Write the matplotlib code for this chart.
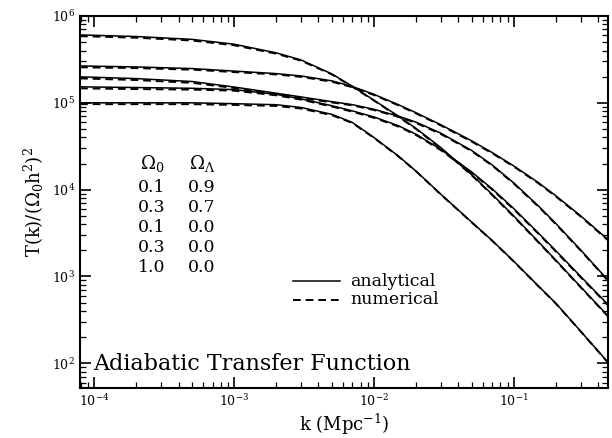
import numpy as np
import matplotlib
matplotlib.use("Agg")
import matplotlib.pyplot as plt
from matplotlib.ticker import LogLocator, NullFormatter

plt.rcParams["font.family"] = "DejaVu Serif"
plt.rcParams["mathtext.fontset"] = "dejavuserif"

# wavenumbers (Mpc^-1) at which the curves are tabulated
k = [7.9e-5, 1e-4, 2e-4, 5e-4, 1e-3, 2e-3, 3e-3, 5e-3, 7e-3, 1e-2,
     1.5e-2, 2e-2, 3e-2, 5e-2, 7e-2, 0.1, 0.15, 0.2, 0.3, 0.47]

# analytical T(k)/(Omega_0 h^2)^2, one list per model
ana_a = [6.05e5, 5.99e5, 5.80e5, 5.38e5, 4.73e5, 3.76e5, 3.12e5, 2.15e5, 1.55e5, 1.07e5,
         6.99e4, 5.06e4, 3.05e4, 1.48e4, 8.80e3, 4.95e3, 2.50e3, 1.53e3, 760, 352]
ana_b = [2.66e5, 2.64e5, 2.59e5, 2.48e5, 2.32e5, 2.17e5, 2.04e5, 1.79e5, 1.54e5, 1.25e5,
         9.48e4, 7.67e4, 5.59e4, 3.64e4, 2.67e4, 1.87e4, 1.20e4, 8.46e3, 4.99e3, 2.66e3]
ana_c = [1.99e5, 1.97e5, 1.90e5, 1.76e5, 1.52e5, 1.29e5, 1.17e5, 1.03e5, 9.53e4, 8.41e4,
         7.01e4, 5.98e4, 4.47e4, 2.82e4, 1.92e4, 1.19e4, 6.46e3, 4.05e3, 2.02e3, 907]
ana_d = [1.53e5, 1.52e5, 1.50e5, 1.47e5, 1.42e5, 1.25e5, 1.11e5, 9.25e4, 8.07e4, 6.87e4,
         5.43e4, 4.34e4, 2.91e4, 1.59e4, 1.02e4, 6.03e3, 3.15e3, 1.97e3, 1.00e3, 476]
ana_e = [1.00e5, 1.00e5, 1.00e5, 1.00e5, 9.77e4, 9.51e4, 8.85e4, 7.36e4, 5.94e4, 3.98e4,
         2.42e4, 1.63e4, 8.87e3, 4.21e3, 2.59e3, 1.49e3, 774, 488, 234, 103]

# numerical results
num_a = [5.85e5, 5.80e5, 5.62e5, 5.22e5, 4.60e5, 3.68e5, 3.06e5, 2.12e5, 1.53e5, 1.06e5,
         6.88e4, 4.98e4, 3.00e4, 1.46e4, 8.65e3, 4.87e3, 2.46e3, 1.51e3, 750, 347]
num_b = [2.57e5, 2.55e5, 2.51e5, 2.41e5, 2.26e5, 2.12e5, 1.99e5, 1.75e5, 1.51e5, 1.23e5,
         9.32e4, 7.54e4, 5.49e4, 3.57e4, 2.62e4, 1.84e4, 1.18e4, 8.31e3, 4.91e3, 2.61e3]
num_c = [1.91e5, 1.89e5, 1.83e5, 1.70e5, 1.48e5, 1.26e5, 1.14e5, 1.01e5, 9.35e4, 8.25e4,
         6.88e4, 5.86e4, 4.38e4, 2.77e4, 1.89e4, 1.17e4, 6.35e3, 3.98e3, 1.99e3, 893]
num_d = [1.47e5, 1.46e5, 1.44e5, 1.42e5, 1.38e5, 1.22e5, 1.09e5, 9.05e4, 7.90e4, 6.72e4,
         5.32e4, 4.25e4, 2.85e4, 1.56e4, 1.00e4, 5.91e3, 3.09e3, 1.93e3, 980, 467]
num_e = [9.65e4, 9.65e4, 9.65e4, 9.65e4, 9.45e4, 9.20e4, 8.60e4, 7.20e4, 5.85e4, 3.94e4,
         2.40e4, 1.62e4, 8.80e3, 4.18e3, 2.57e3, 1.48e3, 768, 485, 233, 102]

omega_0 = ["0.1", "0.3", "0.1", "0.3", "1.0"]
omega_l = ["0.9", "0.7", "0.0", "0.0", "0.0"]

H = 438  # figure height in pixels, for placing the annotations

fig = plt.figure(figsize=(6.12, 4.38), dpi=100)
ax = fig.add_axes([0.1307, 0.1142, 0.8627, 0.8493])

for ana, num in [(ana_a, num_a), (ana_b, num_b), (ana_c, num_c),
                 (ana_d, num_d), (ana_e, num_e)]:
    ax.plot(k, ana, color="black", lw=1.1, ls="-")
    ax.plot(k, num, color="black", lw=1.4, ls=(0, (4, 2.5)))

ax.set_xscale("log")
ax.set_yscale("log")
ax.set_xlim(7.9e-5, 0.47)
ax.set_ylim(52, 1e6)

for axis in (ax.xaxis, ax.yaxis):
    axis.set_minor_locator(LogLocator(base=10, subs=np.arange(2, 10), numticks=20))
    axis.set_minor_formatter(NullFormatter())

ax.tick_params(which="both", direction="in", top=True, right=True, labelsize=9)
ax.tick_params(which="major", length=8, width=1.2)
ax.tick_params(which="minor", length=4, width=0.9)
for s in ax.spines.values():
    s.set_linewidth(1.5)

ax.set_xlabel(r"k (Mpc$^{-1}$)", fontsize=13, labelpad=2)
ax.set_ylabel(r"T(k)/($\Omega_0$h$^2$)$^2$", fontsize=13, labelpad=4)

# model table
ax.text(152, H - 164, r"$\Omega_0$", transform=None, fontsize=13, ha="center", va="center")
ax.text(202, H - 164, r"$\Omega_\Lambda$", transform=None, fontsize=13, ha="center", va="center")
for i in range(len(omega_0)):
    y = H - (188 + 20 * i)
    ax.text(152, y, omega_0[i], transform=None, fontsize=12.5, ha="center", va="center")
    ax.text(202, y, omega_l[i], transform=None, fontsize=12.5, ha="center", va="center")

# key
ax.plot([293, 340], [H - 281, H - 281], transform=None, color="black", lw=1.1, clip_on=False)
ax.plot([293, 340], [H - 300, H - 300], transform=None, color="black", lw=1.4,
        ls=(0, (4, 2.5)), clip_on=False)
ax.text(350, H - 281, "analytical", transform=None, fontsize=12.5, va="center")
ax.text(350, H - 300, "numerical", transform=None, fontsize=12.5, va="center")

ax.text(0.025, 0.065, "Adiabatic Transfer Function", transform=ax.transAxes,
        fontsize=16, va="center")

fig.savefig("out.png", dpi=100)
